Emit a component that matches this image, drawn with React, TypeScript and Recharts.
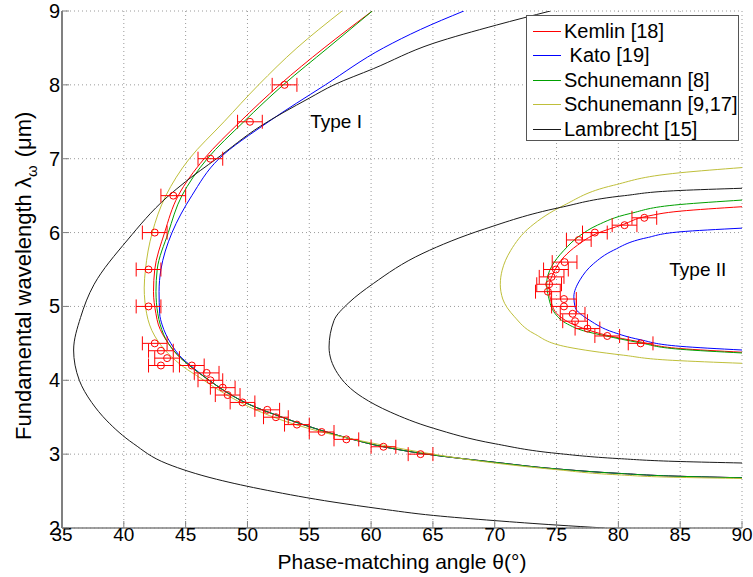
import {
  ComposedChart,
  Line,
  Scatter,
  XAxis,
  YAxis,
  CartesianGrid,
  ErrorBar,
  Legend,
  ReferenceDot,
} from "recharts";

// [theta (deg), lambda (um)], ordered from the top of each curve downwards
type Pt = [number, number];

const kemlinTypeI: Pt[] = [
  [60.1, 9.0], [56.2, 8.5], [52.6, 8.0], [49.4, 7.5], [46.5, 7.0], [44.4, 6.5],
  [43.3, 6.0], [42.5, 5.5], [42.4, 5.2], [42.6, 4.9], [42.8, 4.75], [43.6, 4.5],
  [44.6, 4.3], [45.3, 4.2], [46.9, 4.0], [48.7, 3.8], [49.8, 3.7], [52.8, 3.5],
  [56.4, 3.3], [58.5, 3.2], [61.0, 3.1], [64.5, 3.0], [70.0, 2.89], [75.0, 2.8],
  [80.0, 2.74], [85.0, 2.7], [90.0, 2.68],
];
const kemlinTypeII: Pt[] = [
  [90.0, 6.35], [85.0, 6.29], [82.3, 6.22], [80.4, 6.11], [78.3, 5.99], [76.7, 5.83],
  [75.6, 5.67], [74.8, 5.47], [74.4, 5.26], [74.6, 5.04], [75.3, 4.86], [76.3, 4.76],
  [77.4, 4.69], [79.05, 4.61], [81.75, 4.52], [85.0, 4.43], [90.0, 4.38],
];

const katoTypeI: Pt[] = [
  [67.5, 9.0], [64.0, 8.75], [61.0, 8.5], [56.3, 8.0], [51.7, 7.5], [47.7, 7.0],
  [45.5, 6.5], [43.9, 6.0], [43.0, 5.5], [42.85, 5.2], [42.9, 4.9], [43.1, 4.75],
  [43.8, 4.5], [44.7, 4.3], [45.4, 4.2], [46.9, 4.0], [48.7, 3.8], [49.8, 3.7],
  [52.8, 3.5], [56.4, 3.3], [58.5, 3.2], [61.0, 3.1], [64.5, 3.0], [70.0, 2.89],
  [75.0, 2.8], [80.0, 2.74], [85.0, 2.7], [90.0, 2.68],
];
const katoTypeII: Pt[] = [
  [90.0, 6.06], [85.0, 6.01], [82.3, 5.93], [79.6, 5.76], [78.0, 5.58], [76.9, 5.36],
  [76.4, 5.13], [76.5, 4.99], [77.7, 4.81], [79.6, 4.65], [81.75, 4.55], [85.0, 4.46],
  [90.0, 4.41],
];

const schunemann8TypeI: Pt[] = [
  [60.1, 9.0], [56.5, 8.5], [52.9, 8.0], [49.7, 7.5], [46.75, 7.0], [44.7, 6.5],
  [43.6, 6.0], [42.7, 5.5], [42.6, 5.2], [42.75, 4.9], [42.95, 4.75], [43.6, 4.5],
  [44.6, 4.3], [45.3, 4.2], [46.9, 4.0], [48.7, 3.8], [49.8, 3.7], [52.8, 3.5],
  [56.4, 3.3], [58.5, 3.2], [61.0, 3.1], [64.5, 3.0], [70.0, 2.89], [75.0, 2.8],
  [80.0, 2.74], [85.0, 2.7], [90.0, 2.68],
];
const schunemann8TypeII: Pt[] = [
  [90.0, 6.44], [85.0, 6.38], [81.0, 6.26], [78.3, 6.1], [76.9, 5.96], [75.6, 5.76],
  [74.6, 5.54], [74.2, 5.31], [74.35, 5.13], [74.9, 4.9], [75.9, 4.76], [77.2, 4.67],
  [79.0, 4.6], [81.7, 4.51], [85.0, 4.42], [90.0, 4.37],
];

const schunemann917TypeI: Pt[] = [
  [57.65, 9.0], [54.0, 8.5], [50.9, 8.0], [48.1, 7.5], [45.3, 7.0], [43.4, 6.5],
  [42.3, 6.0], [41.75, 5.5], [41.65, 5.25], [41.85, 4.9], [42.5, 4.6], [43.6, 4.36],
  [44.84, 4.18], [46.2, 4.03], [48.35, 3.8], [50.8, 3.59], [53.7, 3.41], [57.25, 3.25],
  [61.0, 3.12], [65.0, 3.0], [70.0, 2.88], [75.0, 2.79], [80.0, 2.72], [85.0, 2.685],
  [90.0, 2.67],
];
const schunemann917TypeII: Pt[] = [
  [90.0, 6.88], [85.0, 6.81], [79.6, 6.64], [75.6, 6.37], [72.9, 6.08], [71.3, 5.76],
  [70.6, 5.49], [70.45, 5.3], [70.65, 5.1], [71.6, 4.86], [73.2, 4.63], [75.9, 4.45],
  [80.4, 4.34], [84.4, 4.27], [90.0, 4.23],
];

const lambrechtTypeI: Pt[] = [
  [74.5, 9.0], [70.15, 8.81], [65.0, 8.56], [60.2, 8.22], [57.0, 8.0], [55.0, 7.82],
  [51.05, 7.44], [47.5, 7.0], [45.0, 6.69], [43.5, 6.48], [40.3, 5.9], [37.6, 5.3],
  [36.5, 4.85], [35.94, 4.41], [36.4, 4.0], [37.4, 3.7], [38.64, 3.45], [40.8, 3.14],
  [43.5, 2.87], [47.5, 2.66], [51.6, 2.51], [57.0, 2.35], [60.75, 2.26], [65.05, 2.17],
  [70.0, 2.1], [75.0, 2.04], [78.9, 2.0],
];
const lambrechtTypeII: Pt[] = [
  [90.0, 6.6], [85.0, 6.57], [80.5, 6.5], [75.3, 6.34], [69.2, 6.05], [64.2, 5.72],
  [60.18, 5.31], [58.2, 5.05], [57.0, 4.81], [56.6, 4.45], [57.3, 4.09], [59.3, 3.77],
  [61.55, 3.57], [65.05, 3.35], [70.05, 3.14], [75.04, 3.01], [80.0, 2.94], [85.0, 2.9],
  [90.0, 2.88],
];

// measured points (red circles) with +/- error in theta
const measTheta = [
  53.0, 50.2, 47.0, 44.0, 42.5, 42.0, 42.0, 42.5, 43.0, 43.5, 43.0, 45.5, 46.7, 47.0,
  48.0, 48.4, 49.6, 51.6, 52.3, 54.0, 56.0, 58.0, 61.0, 64.0,
  82.1, 80.5, 78.1, 76.8, 75.65, 74.95, 74.6, 74.4, 74.3, 75.6, 75.6, 76.3, 76.5, 77.5,
  79.1, 81.8,
];
const measLambda = [
  8.0, 7.5, 7.0, 6.5, 6.0, 5.5, 5.0, 4.5, 4.4, 4.3, 4.2, 4.2, 4.1, 4.0,
  3.9, 3.8, 3.7, 3.6, 3.5, 3.4, 3.3, 3.2, 3.1, 3.0,
  6.2, 6.1, 6.0, 5.9, 5.6, 5.5, 5.4, 5.3, 5.2, 5.1, 5.0, 4.9, 4.8, 4.7,
  4.6, 4.5,
];
const measErr = measTheta.map(() => 1.0);

const xTicks = [35, 40, 45, 50, 55, 60, 65, 70, 75, 80, 85, 90];
const yTicks = [2, 3, 4, 5, 6, 7, 8, 9];

const models = [
  { name: "Kemlin [18]", color: "#ff0000", typeI: kemlinTypeI, typeII: kemlinTypeII },
  { name: " Kato [19]", color: "#0000ff", typeI: katoTypeI, typeII: katoTypeII },
  { name: "Schunemann [8]", color: "#00a000", typeI: schunemann8TypeI, typeII: schunemann8TypeII },
  { name: "Schunemann [9,17]", color: "#bfbf3a", typeI: schunemann917TypeI, typeII: schunemann917TypeII },
  { name: "Lambrecht [15]", color: "#1a1a1a", typeI: lambrechtTypeI, typeII: lambrechtTypeII },
];

const FONT = "'Liberation Sans', Arial, sans-serif";
const FRAME = "#808080";

const rows = (pts: Pt[]) => pts.map(([x, y]) => ({ x, y }));
const measured = measTheta.map((x, i) => ({ x, y: measLambda[i], err: measErr[i] }));

const XTick = ({ x, y, payload }: any) => (
  <g>
    <line x1={x} x2={x} y1={y} y2={y - 7} stroke={FRAME} />
    <text x={x} y={y + 13} textAnchor="middle" fontSize={19} fontFamily={FONT} fill="#000">
      {payload.value}
    </text>
  </g>
);

const YTick = ({ x, y, payload }: any) => (
  <g>
    <line x1={x} x2={x + 7} y1={y} y2={y} stroke={FRAME} />
    <text x={x - 2} y={y} dy="0.35em" textAnchor="end" fontSize={20} fontFamily={FONT} fill="#000">
      {payload.value}
    </text>
  </g>
);

const TopTick = ({ x, y }: any) => <line x1={x} x2={x} y1={y} y2={y + 7} stroke={FRAME} />;
const RightTick = ({ x, y }: any) => <line x1={x} x2={x - 7} y1={y} y2={y} stroke={FRAME} />;

const XTitle = ({ viewBox }: any) => (
  <text x={viewBox.x + viewBox.width / 2} y={569} textAnchor="middle" fontSize={21} fontFamily={FONT} fill="#000">
    Phase-matching angle θ(°)
  </text>
);

const YTitle = () => (
  <text transform="translate(31, 440) rotate(-90)" textAnchor="start" fontSize={22} fontFamily={FONT} fill="#000">
    Fundamental wavelength λ
    <tspan dy={6} fontSize={15}>ω</tspan>
    <tspan dy={-6} dx={8}>(μm)</tspan>
  </text>
);

const OpenCircle = (props: any) => (
  <circle cx={props.cx} cy={props.cy} r={3.5} fill="none" stroke="#ff0000" strokeWidth={1} />
);

const TextMark = (label: string) => (props: any) => (
  <text x={props.cx} y={props.cy} fontSize={19} fontFamily={FONT} fill="#000">
    {label}
  </text>
);

const renderLegend = () => (
  <div
    style={{
      width: 213,
      height: 126,
      boxSizing: "border-box",
      border: "1px solid #555",
      background: "#fff",
      paddingTop: 3,
      fontFamily: FONT,
      fontSize: 20,
      color: "#000",
    }}
  >
    {models.map((m) => (
      <div key={m.name} style={{ display: "flex", alignItems: "center", height: 24.5 }}>
        <span style={{ width: 28, marginLeft: 6, marginRight: 3, borderTop: `1px solid ${m.color}` }} />
        <span style={{ whiteSpace: "pre" }}>{m.name}</span>
      </div>
    ))}
  </div>
);

export default function App() {
  return (
    <div style={{ position: "absolute", left: 0, top: 0, background: "#fff" }}>
      <ComposedChart width={753} height={577} margin={{ top: 11, right: 11, left: 0, bottom: 0 }}>
        <CartesianGrid stroke="#9a9a9a" strokeDasharray="1 3" />
        <XAxis
          dataKey="x"
          type="number"
          domain={[35, 90]}
          ticks={xTicks}
          allowDataOverflow
          height={49}
          tickSize={0}
          tickMargin={0}
          tick={<XTick />}
          axisLine={{ stroke: FRAME, strokeWidth: 1.5 }}
          label={<XTitle />}
        />
        <XAxis
          xAxisId="top"
          orientation="top"
          type="number"
          domain={[35, 90]}
          ticks={xTicks}
          allowDataOverflow
          height={0}
          tickSize={0}
          tickMargin={0}
          tick={<TopTick />}
          axisLine={{ stroke: FRAME, strokeWidth: 1.5 }}
        />
        <YAxis
          type="number"
          domain={[2, 9]}
          ticks={yTicks}
          allowDataOverflow
          width={62}
          tickSize={0}
          tickMargin={0}
          tick={<YTick />}
          axisLine={{ stroke: FRAME, strokeWidth: 2 }}
          label={<YTitle />}
        />
        <YAxis
          yAxisId="right"
          orientation="right"
          type="number"
          domain={[2, 9]}
          ticks={yTicks}
          allowDataOverflow
          width={0}
          tickSize={0}
          tickMargin={0}
          tick={<RightTick />}
          axisLine={{ stroke: FRAME, strokeWidth: 1.5 }}
        />
        {models.flatMap((m) => [
          <Line
            key={m.name + "I"}
            data={rows(m.typeI)}
            dataKey="y"
            type="monotoneY"
            stroke={m.color}
            strokeWidth={1}
            dot={false}
            activeDot={false}
            isAnimationActive={false}
          />,
          <Line
            key={m.name + "II"}
            data={rows(m.typeII)}
            dataKey="y"
            type="monotoneY"
            stroke={m.color}
            strokeWidth={1}
            dot={false}
            activeDot={false}
            isAnimationActive={false}
          />,
        ])}
        <Scatter data={measured} dataKey="y" shape={OpenCircle} isAnimationActive={false}>
          <ErrorBar dataKey="err" direction="x" width={7} stroke="#ff0000" strokeWidth={1} />
        </Scatter>
        <ReferenceDot x={55.08} y={7.415} r={0} shape={TextMark("Type I")} />
        <ReferenceDot x={84.12} y={5.41} r={0} shape={TextMark("Type II")} />
        <Legend
          layout="vertical"
          align="center"
          verticalAlign="middle"
          content={renderLegend}
          wrapperStyle={{ left: 526, top: 15, width: 213, height: 126 }}
        />
      </ComposedChart>
    </div>
  );
}
